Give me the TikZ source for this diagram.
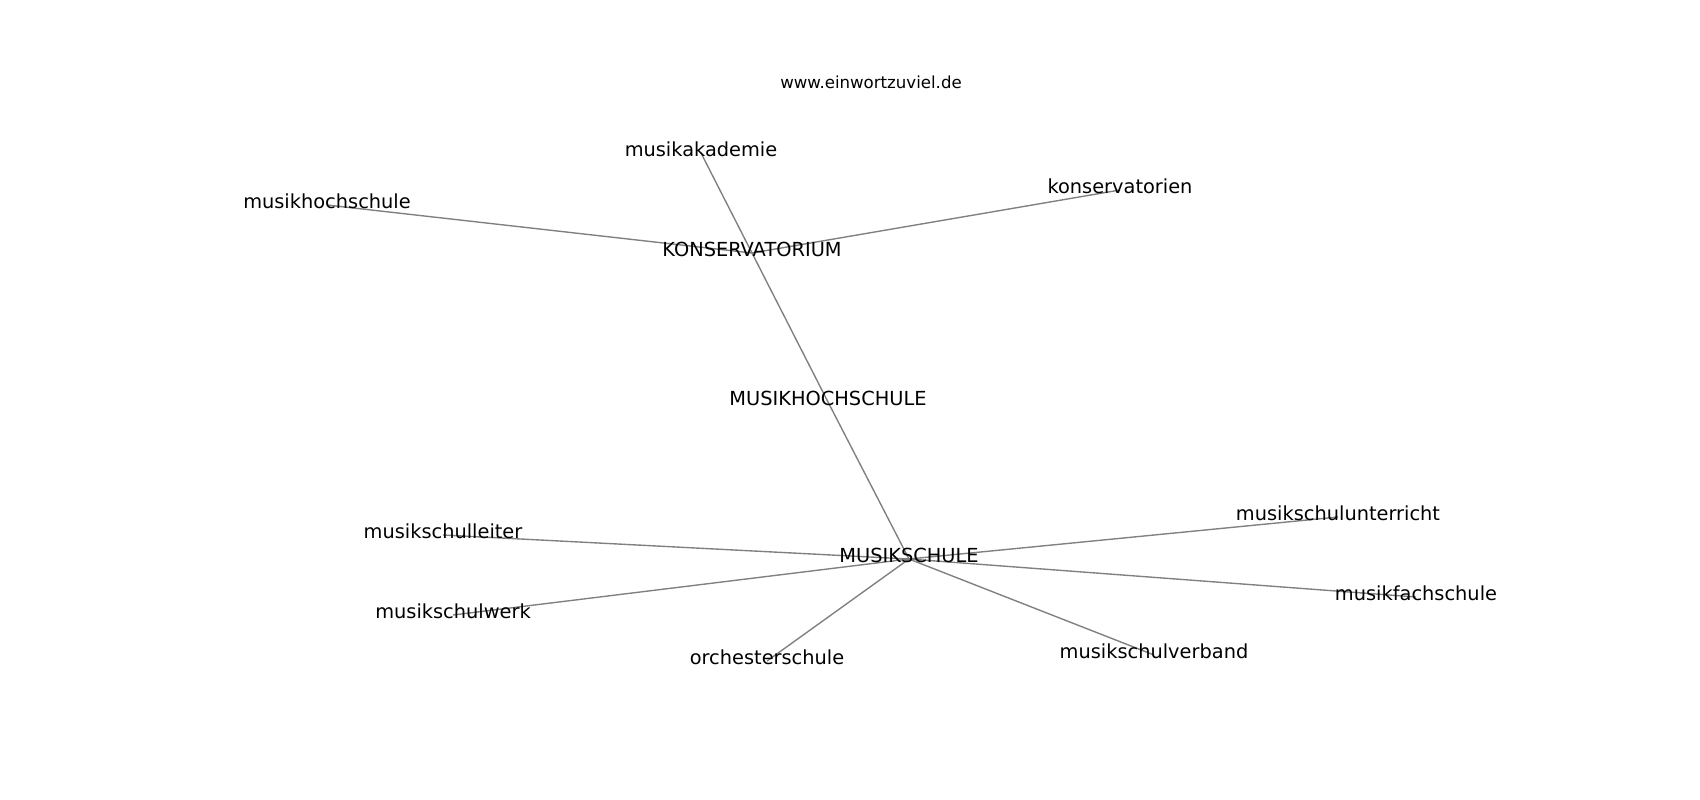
\documentclass[tikz,border=0pt]{standalone}
\usepackage{fontspec}
\setmainfont{DejaVu Sans}
\usetikzlibrary{backgrounds}
\tikzset{
  lbl/.style={inner sep=0pt, text height=0.76em, text depth=0.24em, font=\fontsize{14}{16}\selectfont, text=black},
  ttl/.style={inner sep=0pt, font=\fontsize{12}{14}\selectfont, text=black},
  edge/.style={draw=gray, line width=1pt}
}
\begin{document}
\begin{tikzpicture}[x=0.254mm, y=-0.254mm]
\useasboundingbox (0,0) rectangle (1700,800);
\node[ttl] (title) at (871,82) {www.einwortzuviel.de};
\node[lbl] (akad) at (701,153) {musikakademie};
\node[lbl] (mhs) at (327,205) {musikhochschule};
\node[lbl] (kons) at (752,253) {KONSERVATORIUM};
\node[lbl] (konsn) at (1120,190) {konservatorien};
\node[lbl] (MHS) at (828,402) {MUSIKHOCHSCHULE};
\node[lbl] (ms) at (909,559) {MUSIKSCHULE};
\node[lbl] (leiter) at (443,535) {musikschulleiter};
\node[lbl] (werk) at (453,615) {musikschulwerk};
\node[lbl] (orch) at (767,661) {orchesterschule};
\node[lbl] (unt) at (1338,517) {musikschulunterricht};
\node[lbl] (fach) at (1416,597) {musikfachschule};
\node[lbl] (verb) at (1154,655) {musikschulverband};
\begin{scope}[on background layer]
\draw[edge] (kons.center) -- (mhs.center);
\draw[edge] (kons.center) -- (akad.center);
\draw[edge] (kons.center) -- (konsn.center);
\draw[edge] (kons.center) -- (MHS.center);
\draw[edge] (MHS.center) -- (ms.center);
\draw[edge] (ms.center) -- (leiter.center);
\draw[edge] (ms.center) -- (werk.center);
\draw[edge] (ms.center) -- (orch.center);
\draw[edge] (ms.center) -- (unt.center);
\draw[edge] (ms.center) -- (fach.center);
\draw[edge] (ms.center) -- (verb.center);
\end{scope}
\end{tikzpicture}
\end{document}
